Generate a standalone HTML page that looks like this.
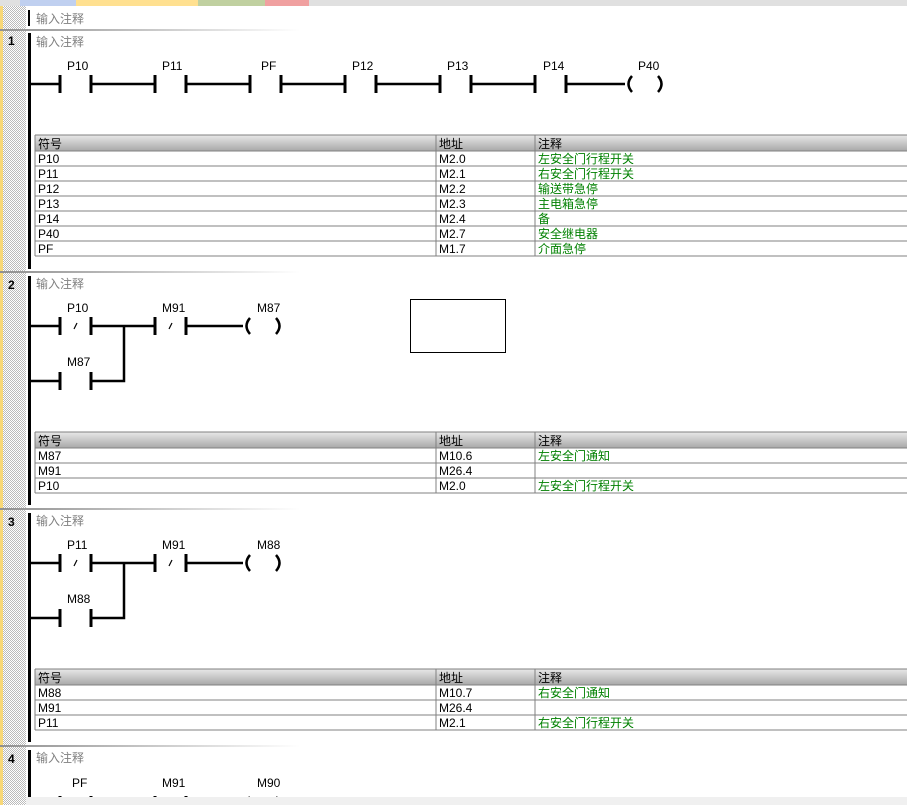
<!DOCTYPE html>
<html><head><meta charset="utf-8"><style>
body{margin:0;width:907px;height:805px;overflow:hidden;background:#fff}
svg{display:block}
text{font-family:"Liberation Sans","Noto Sans CJK SC",sans-serif;font-size:12px}
.c{fill:#808080}.g{fill:#008000}.k{fill:#000}
</style></head><body>
<svg width="907" height="805" xmlns="http://www.w3.org/2000/svg">
<defs>
<pattern id="chk" width="2" height="2" patternUnits="userSpaceOnUse"><rect width="2" height="2" fill="#fff"/><rect width="1" height="1" fill="#bbb"/><rect x="1" y="1" width="1" height="1" fill="#bbb"/></pattern>
<linearGradient id="sep" x1="0" x2="1"><stop offset="0" stop-color="#909090"/><stop offset="1" stop-color="#fff"/></linearGradient>
<linearGradient id="hdr" x1="0" y1="0" x2="0" y2="1"><stop offset="0" stop-color="#e8e8e8"/><stop offset="1" stop-color="#a8a8a8"/></linearGradient>
<g id="no"><path d="M0-9V9M31-9V9" stroke="#000" stroke-width="3"/></g>
<g id="nc"><path d="M0-9V9M31-9V9" stroke="#000" stroke-width="3"/><path d="M14 3L17-3" stroke="#000" stroke-width="1.2"/></g>
<g id="coil"><path d="M7-8Q0 0 7 8M33-8Q40 0 33 8" stroke="#000" stroke-width="2.5" fill="none"/></g>
</defs>
<rect x="0" y="0" width="3" height="805" fill="#f8d878"/>
<rect x="3" y="0" width="23" height="805" fill="url(#chk)"/>
<!-- tabs -->
<rect x="0" y="0" width="907" height="6" fill="#e0e0e0"/>
<rect x="20" y="0" width="56" height="6" fill="#c0d0f0"/>
<rect x="76" y="0" width="122" height="6" fill="#ffe090"/>
<rect x="198" y="0" width="67" height="6" fill="#c0d0a0"/>
<rect x="265" y="0" width="44" height="6" fill="#f0a0a0"/>
<rect x="28" y="10" width="2" height="16" fill="#000"/>
<text x="36" y="23" class="c">输入注释</text>
<rect x="0" y="29" width="300" height="2" fill="url(#sep)"/>

<!-- rung 1 -->
<text x="8" y="45" font-weight="bold" style="font-size:12px">1</text>
<rect x="28" y="33" width="3" height="236" fill="#000"/>
<text x="36" y="46" class="c">输入注释</text>
<path d="M30 84H60M91 84H155M186 84H250M281 84H345M376 84H440M471 84H535M566 84H625" stroke="#000" stroke-width="2.5"/>
<use href="#no" x="60" y="84"/><use href="#no" x="155" y="84"/><use href="#no" x="250" y="84"/><use href="#no" x="345" y="84"/><use href="#no" x="440" y="84"/><use href="#no" x="535" y="84"/>
<use href="#coil" x="625" y="84"/>
<text x="67" y="70">P10</text><text x="162" y="70">P11</text><text x="261" y="70">PF</text><text x="352" y="70">P12</text><text x="447" y="70">P13</text><text x="543" y="70">P14</text><text x="638" y="70">P40</text>
<rect x="35" y="135" width="872" height="16" fill="url(#hdr)"/>
<g stroke="#808080" fill="none"><path d="M35 135H907M35 151H907M35 166H907M35 181H907M35 196H907M35 211H907M35 226H907M35 241H907M35 256H907M35 135V256M436 135V256M535 135V256"/></g>
<text x="38" y="148">符号</text><text x="439" y="148">地址</text><text x="538" y="148">注释</text>
<text x="38" y="163">P10</text><text x="439" y="163">M2.0</text><text x="538" y="163" class="g">左安全门行程开关</text>
<text x="38" y="178">P11</text><text x="439" y="178">M2.1</text><text x="538" y="178" class="g">右安全门行程开关</text>
<text x="38" y="193">P12</text><text x="439" y="193">M2.2</text><text x="538" y="193" class="g">输送带急停</text>
<text x="38" y="208">P13</text><text x="439" y="208">M2.3</text><text x="538" y="208" class="g">主电箱急停</text>
<text x="38" y="223">P14</text><text x="439" y="223">M2.4</text><text x="538" y="223" class="g">备</text>
<text x="38" y="238">P40</text><text x="439" y="238">M2.7</text><text x="538" y="238" class="g">安全继电器</text>
<text x="38" y="253">PF</text><text x="439" y="253">M1.7</text><text x="538" y="253" class="g">介面急停</text>
<rect x="0" y="271" width="300" height="2" fill="url(#sep)"/>

<!-- rung 2 -->
<text x="8" y="289" font-weight="bold">2</text>
<rect x="28" y="276" width="3" height="229" fill="#000"/>
<text x="36" y="288" class="c">输入注释</text>
<path d="M30 326H60M91 326H155M186 326H243M30 381H60M91 381H124V326" stroke="#000" stroke-width="2.5" fill="none"/>
<use href="#nc" x="60" y="326"/><use href="#nc" x="155" y="326"/><use href="#no" x="60" y="381"/>
<use href="#coil" x="243" y="326"/>
<text x="67" y="312">P10</text><text x="162" y="312">M91</text><text x="257" y="312">M87</text><text x="67" y="366">M87</text>
<rect x="410.5" y="299.5" width="95" height="53" fill="none" stroke="#000"/>
<rect x="35" y="432" width="872" height="16" fill="url(#hdr)"/>
<g stroke="#808080" fill="none"><path d="M35 432H907M35 448H907M35 463H907M35 478H907M35 493H907M35 432V493M436 432V493M535 432V493"/></g>
<text x="38" y="445">符号</text><text x="439" y="445">地址</text><text x="538" y="445">注释</text>
<text x="38" y="460">M87</text><text x="439" y="460">M10.6</text><text x="538" y="460" class="g">左安全门通知</text>
<text x="38" y="475">M91</text><text x="439" y="475">M26.4</text>
<text x="38" y="490">P10</text><text x="439" y="490">M2.0</text><text x="538" y="490" class="g">左安全门行程开关</text>
<rect x="0" y="508" width="300" height="2" fill="url(#sep)"/>

<!-- rung 3 -->
<text x="8" y="526" font-weight="bold">3</text>
<rect x="28" y="513" width="3" height="229" fill="#000"/>
<text x="36" y="525" class="c">输入注释</text>
<path d="M30 563H60M91 563H155M186 563H243M30 618H60M91 618H124V563" stroke="#000" stroke-width="2.5" fill="none"/>
<use href="#nc" x="60" y="563"/><use href="#nc" x="155" y="563"/><use href="#no" x="60" y="618"/>
<use href="#coil" x="243" y="563"/>
<text x="67" y="549">P11</text><text x="162" y="549">M91</text><text x="257" y="549">M88</text><text x="67" y="603">M88</text>
<rect x="35" y="669" width="872" height="16" fill="url(#hdr)"/>
<g stroke="#808080" fill="none"><path d="M35 669H907M35 685H907M35 700H907M35 715H907M35 730H907M35 669V730M436 669V730M535 669V730"/></g>
<text x="38" y="682">符号</text><text x="439" y="682">地址</text><text x="538" y="682">注释</text>
<text x="38" y="697">M88</text><text x="439" y="697">M10.7</text><text x="538" y="697" class="g">右安全门通知</text>
<text x="38" y="712">M91</text><text x="439" y="712">M26.4</text>
<text x="38" y="727">P11</text><text x="439" y="727">M2.1</text><text x="538" y="727" class="g">右安全门行程开关</text>
<rect x="0" y="745" width="300" height="2" fill="url(#sep)"/>

<!-- rung 4 -->
<text x="8" y="763" font-weight="bold">4</text>
<rect x="28" y="750" width="3" height="55" fill="#000"/>
<text x="36" y="762" class="c">输入注释</text>
<text x="72" y="787">PF</text><text x="162" y="787">M91</text><text x="257" y="787">M90</text>
<use href="#nc" x="60" y="805"/><use href="#nc" x="155" y="805"/><use href="#coil" x="243" y="805"/>
<rect x="26" y="797" width="881" height="8" fill="#f0f0f0"/>
</svg>
</body></html>
